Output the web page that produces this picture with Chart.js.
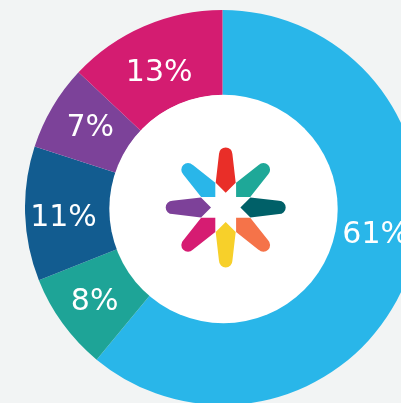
<!DOCTYPE html>
<html>
<head>
<meta charset="utf-8">
<script src="https://cdn.jsdelivr.net/npm/chart.js@4"></script>
<style>
html,body{margin:0;padding:0;width:401px;height:403px;overflow:hidden;background:#F2F4F4;}
#wrap{position:absolute;left:25px;top:10px;width:395px;height:395px;}
</style>
</head>
<body>
<div id="wrap"><canvas id="c" width="395" height="395"></canvas></div>
<script>
const categories = ["A","B","C","D","E"];
const values = [61,8,11,7,13];
const labels = ["61%","8%","11%","7%","13%"];
const colors = ["#29B6E9","#1EA497","#125C90","#7C4299","#D41C71"];
const labelNudges = [[7.5,-24.4],[-2.6,3.7],[-4.2,6],[1.1,-0.3],[-1.8,7.6]];
const petalColors = ["#E92E28","#1EA898","#006068","#F57349","#F7D02A","#D61C72","#7D4199","#29B6E9"];

const hole = {
  id:'hole',
  afterDatasetsDraw(chart){
    const a = chart.getDatasetMeta(0).data[0];
    const ctx = chart.ctx;
    ctx.save();
    ctx.fillStyle = '#FFFFFF';
    ctx.beginPath();
    ctx.arc(a.x+1,a.y+1.5,114.2,0,Math.PI*2);
    ctx.fill();
    ctx.restore();
  }
};
const sliceLabels = {
  id:'sliceLabels',
  afterDatasetsDraw(chart){
    const ctx = chart.ctx;
    ctx.save();
    ctx.fillStyle = '#FFFFFF';
    ctx.font = '30px "DejaVu Sans"';
    ctx.textAlign = 'center';
    ctx.textBaseline = 'middle';
    chart.getDatasetMeta(0).data.forEach((arc,i)=>{
      const p = arc.getCenterPoint();
      ctx.fillText(labels[i], p.x+labelNudges[i][0], p.y+labelNudges[i][1]);
    });
    ctx.restore();
  }
};
const logo = {
  id:'logo',
  afterDraw(chart){
    const a = chart.getDatasetMeta(0).data[0];
    const ctx = chart.ctx;
    ctx.save();
    ctx.translate(a.x+3.2,a.y-0.1);
    petalColors.forEach((col,i)=>{
      ctx.save();
      ctx.rotate(i*Math.PI/4);
      ctx.fillStyle = col;
      ctx.beginPath();
      ctx.moveTo(0,-14.7);
      ctx.lineTo(10,-24.7);
      ctx.lineTo(6.7,-53.5);
      ctx.arc(0,-53.3,6.7,0,Math.PI,true);
      ctx.lineTo(-10,-24.7);
      ctx.closePath();
      ctx.fill();
      ctx.restore();
    });
    ctx.restore();
  }
};
new Chart(document.getElementById('c'),{
  type:'doughnut',
  data:{labels:categories,datasets:[{data:values,backgroundColor:colors,borderWidth:0,hoverOffset:0}]},
  options:{
    responsive:false,
    animation:false,
    cutout:'56.8%',
    layout:{padding:0},
    plugins:{legend:{display:false},tooltip:{enabled:false}}
  },
  plugins:[hole,sliceLabels,logo]
});
</script>
</body>
</html>
